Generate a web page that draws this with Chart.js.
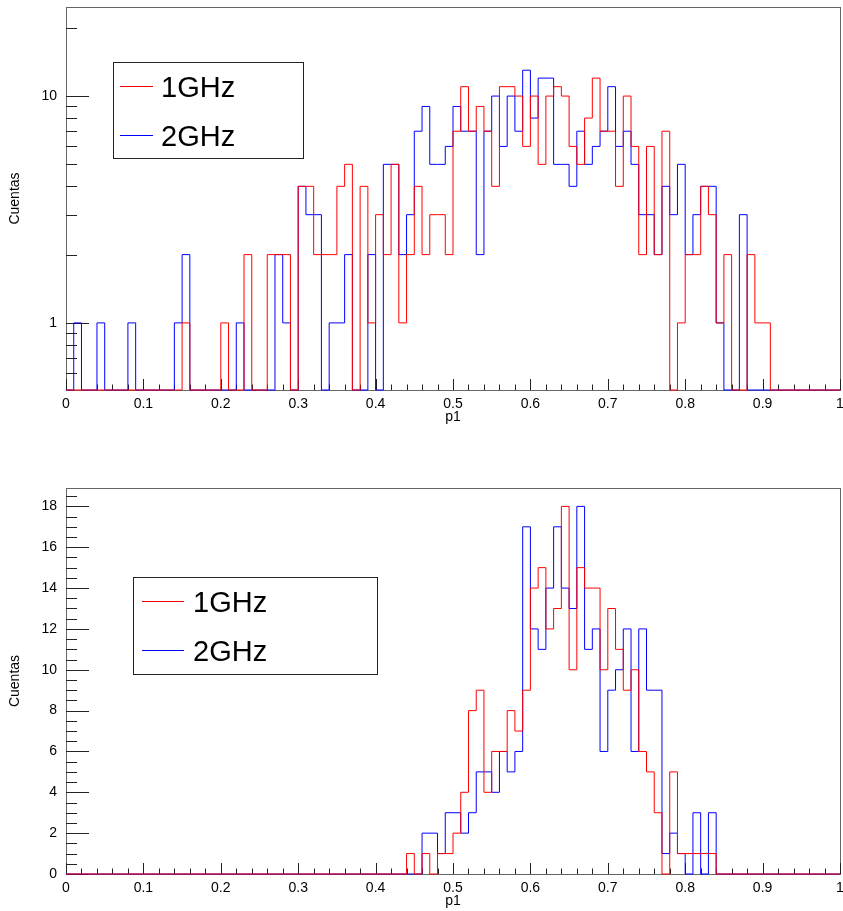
<!DOCTYPE html>
<html lang="en">
<head>
<meta charset="UTF-8" />
<title>p1 - 1GHz vs 2GHz</title>
<script src="https://cdn.jsdelivr.net/npm/chart.js@4.4.1/dist/chart.umd.min.js"></script>
<style>
  body { margin: 0; background: #fff; }
  canvas { position: absolute; left: 0; }
  #topChart { top: 0; }
  #bottomChart { top: 440px; }
</style>
</head>
<body>
<canvas id="topChart" width="843" height="440"></canvas>
<canvas id="bottomChart" width="843" height="471"></canvas>
<script>
// p1 histograms: 100 bins between 0 and 1
const nBins = 100;
const binWidth = 0.01;

// top pad (log scale)
const top1GHz = [
  0,0,0,0,0,0,0,0,0,0,
  0,0,0,0,0,1,0,0,0,0,
  1,0,0,2,0,0,2,2,2,0,
  4,4,2,2,2,4,5,0,4,1,
  3,2,5,1,2,4,2,3,3,2,
  7,11,7,9,7,4,11,11,10,6,
  10,5,10,11,10,6,5,8,12,7,
  7,4,10,6,2,6,2,7,0,1,
  2,2,4,3,1,2,0,0,2,1,
  1,0,0,0,0,0,0,0,0,0
];
const top2GHz = [
  0,1,0,0,1,0,0,0,1,0,
  0,0,0,0,1,2,0,0,0,0,
  0,0,1,0,0,0,0,2,1,0,
  4,3,3,0,1,1,2,0,0,2,
  0,5,5,2,3,7,9,5,5,6,
  9,7,7,2,7,10,6,10,7,13,
  8,12,12,5,5,4,7,5,6,7,
  11,6,7,5,3,3,2,4,3,5,
  2,3,4,4,1,0,0,3,0,0,
  0,0,0,0,0,0,0,0,0,0
];

// bottom pad (linear scale)
const bottom1GHz = [
  0,0,0,0,0,0,0,0,0,0,
  0,0,0,0,0,0,0,0,0,0,
  0,0,0,0,0,0,0,0,0,0,
  0,0,0,0,0,0,0,0,0,0,
  0,0,0,0,1,0,1,0,1,1,
  2,4,8,9,4,6,6,8,7,9,
  14,15,12,13,18,10,15,14,14,10,
  13,11,9,10,6,5,3,0,5,1,
  1,1,1,1,0,0,0,0,0,0,
  0,0,0,0,0,0,0,0,0,0
];
const bottom2GHz = [
  0,0,0,0,0,0,0,0,0,0,
  0,0,0,0,0,0,0,0,0,0,
  0,0,0,0,0,0,0,0,0,0,
  0,0,0,0,0,0,0,0,0,0,
  0,0,0,0,0,0,2,2,1,3,
  3,2,3,5,5,4,6,5,6,17,
  12,11,14,17,14,13,18,11,12,6,
  9,10,12,6,12,9,9,1,2,1,
  0,3,0,3,0,0,0,0,0,0,
  0,0,0,0,0,0,0,0,0,0
];

const seriesLabels = ["1GHz", "2GHz"];
const seriesColors = ["#ff0000", "#0000ff"];

const xTickLabels = [0, 0.1, 0.2, 0.3, 0.4, 0.5, 0.6, 0.7, 0.8, 0.9, 1];
const topYTickLabels = [1, 10];
const topYMinorTicks = [0.6, 0.7, 0.8, 0.9, 2, 3, 4, 5, 6, 7, 8, 9, 20];
const bottomYTickLabels = [0, 2, 4, 6, 8, 10, 12, 14, 16, 18];

const topYRange = [0.506, 24.7];
const bottomYRange = [0, 18.9];

const FONT = "'Liberation Sans', Arial, Helvetica, sans-serif";

// outline of a histogram: one point per low edge, plus the upper edge
function histPoints(counts, floor) {
  const pts = counts.map((c, i) => ({ x: i * binWidth, y: c > 0 ? c : floor }));
  pts.push({ x: nBins * binWidth, y: pts[pts.length - 1].y });
  return pts;
}

// frame + inward tick marks, ROOT style
const frameTicks = {
  id: "frameTicks",
  beforeDatasetsDraw(chart, args, opts) {
    const { ctx, chartArea: a, scales } = chart;
    const x = scales.x, y = scales.y;
    ctx.save();
    ctx.lineWidth = 1;
    ctx.strokeStyle = "#666";
    ctx.strokeRect(Math.round(a.left) + 0.5, Math.round(a.top) + 0.5,
      Math.round(a.right - a.left), Math.round(a.bottom - a.top));

    ctx.strokeStyle = "#222";
    ctx.beginPath();
    // x: minor every 0.02, major every 0.1
    for (let i = 0; i <= 50; i++) {
      const v = i * 0.02;
      const px = Math.round(x.getPixelForValue(v)) + 0.5;
      const len = i % 5 === 0 ? 11 : 5.5;
      ctx.moveTo(px, a.bottom);
      ctx.lineTo(px, a.bottom - len);
    }
    const yTick = (v, len) => {
      const py = Math.round(y.getPixelForValue(v)) + 0.5;
      if (py < a.top || py > a.bottom + 1) return;
      ctx.moveTo(a.left, py);
      ctx.lineTo(a.left + len, py);
    };
    opts.yMajor.forEach(v => yTick(v, 23));
    opts.yMinor.forEach(v => yTick(v, 11));
    ctx.stroke();
    ctx.restore();
  },
  afterDatasetsDraw(chart, args, opts) {
    const lg = opts.legend;
    if (!lg) return;
    const { ctx } = chart;
    ctx.save();
    ctx.fillStyle = "#fff";
    ctx.fillRect(lg.x, lg.y, lg.w, lg.h);
    ctx.strokeStyle = "#222";
    ctx.lineWidth = 1;
    ctx.strokeRect(lg.x + 0.5, lg.y + 0.5, lg.w, lg.h);
    ctx.font = "29px " + FONT;
    ctx.textBaseline = "alphabetic";
    seriesLabels.forEach((label, i) => {
      const ly = lg.rows[i];
      ctx.strokeStyle = seriesColors[i];
      ctx.beginPath();
      ctx.moveTo(lg.lineX0, ly + 0.5);
      ctx.lineTo(lg.lineX1, ly + 0.5);
      ctx.stroke();
      ctx.fillStyle = "#000";
      ctx.fillText(label, lg.textX, ly + 10.5);
    });
    ctx.restore();
  }
};

function makeChart(id, series, yOpts, frameOpts, xAxisHeight, xTitlePad) {
  const datasets = series.map((pts, i) => ({
    label: seriesLabels[i],
    data: pts,
    borderColor: seriesColors[i],
    borderWidth: 1,
    stepped: true,
    pointRadius: 0,
    fill: false,
    clip: 3
  }));
  return new Chart(document.getElementById(id), {
    type: "line",
    data: { datasets },
    plugins: [frameTicks],
    options: {
      responsive: false,
      animation: false,
      layout: { padding: { left: 0, right: 3, top: frameOpts.top, bottom: 0 } },
      plugins: {
        legend: { display: false },
        tooltip: { enabled: false },
        frameTicks: frameOpts
      },
      scales: {
        x: {
          type: "linear",
          min: 0,
          max: 1,
          grid: { display: false, drawTicks: false },
          border: { display: false },
          afterFit: s => {
            s.height = xAxisHeight;
            s.paddingLeft = 0;
            s.paddingRight = 0;
          },
          ticks: {
            stepSize: 0.1,
            padding: 6,
            color: "#000",
            font: { family: FONT, size: 14 },
            maxRotation: 0,
            autoSkip: false,
            callback: v => xTickLabels.some(t => Math.abs(t - v) < 1e-9) ? String(+v.toFixed(1)) : ""
          },
          title: {
            display: true,
            text: "p1",
            color: "#000",
            font: { family: FONT, size: 14 },
            padding: { top: 0, bottom: xTitlePad }
          }
        },
        y: Object.assign({
          grid: { display: false, drawTicks: false },
          border: { display: false },
          afterFit: s => {
            s.width = 66;
            s.paddingTop = 0;
            s.paddingBottom = 0;
          },
          title: {
            display: true,
            text: "Cuentas",
            color: "#000",
            font: { family: FONT, size: 14 },
            padding: { top: 7, bottom: 0 }
          }
        }, yOpts)
      }
    }
  });
}

makeChart(
  "topChart",
  [histPoints(top1GHz, topYRange[0]), histPoints(top2GHz, topYRange[0])],
  {
    type: "logarithmic",
    min: topYRange[0],
    max: topYRange[1],
    ticks: {
      padding: 9,
      color: "#000",
      font: { family: FONT, size: 14 },
      autoSkip: false,
      callback: v => {
        const hit = topYTickLabels.find(t => Math.abs(t - v) < 1e-9);
        return hit !== undefined ? String(hit) : "";
      }
    }
  },
  {
    top: 7,
    yMajor: topYTickLabels,
    yMinor: topYMinorTicks,
    legend: { x: 113, y: 62, w: 190, h: 96, lineX0: 120, lineX1: 153, textX: 161, rows: [86, 135] }
  },
  50, 14
);

const bottomYMinor = [];
for (let v = 0.5; v < bottomYRange[1]; v += 1) bottomYMinor.push(v);
for (let v = 1; v < bottomYRange[1]; v += 2) bottomYMinor.push(v);

makeChart(
  "bottomChart",
  [histPoints(bottom1GHz, 0), histPoints(bottom2GHz, 0)],
  {
    type: "linear",
    min: bottomYRange[0],
    max: bottomYRange[1],
    ticks: {
      stepSize: 2,
      includeBounds: false,
      padding: 9,
      color: "#000",
      font: { family: FONT, size: 14 },
      callback: v => bottomYTickLabels.includes(v) ? String(v) : ""
    }
  },
  {
    top: 48,
    yMajor: bottomYTickLabels,
    yMinor: bottomYMinor,
    legend: { x: 133, y: 137, w: 244, h: 97, lineX0: 142, lineX1: 184, textX: 193, rows: [161, 210] }
  },
  37, 1
);
</script>
</body>
</html>
